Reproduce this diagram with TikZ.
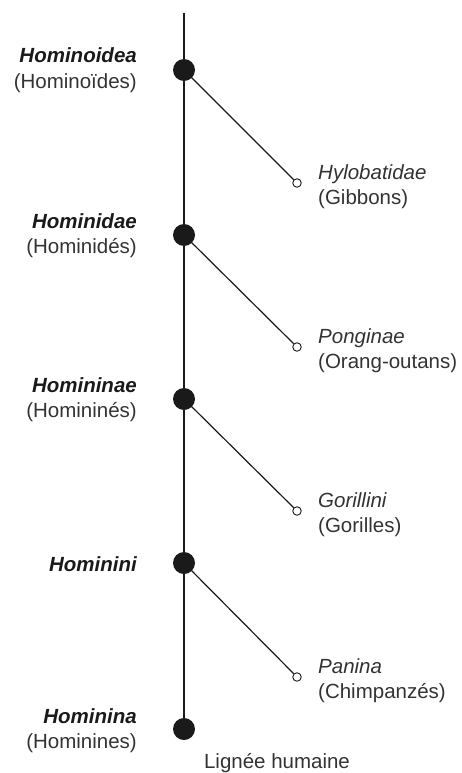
\documentclass[tikz,border=0pt]{standalone}
\usepackage{fontspec}
\setmainfont{Liberation Sans}
\usetikzlibrary{backgrounds}
\definecolor{txt}{HTML}{333333}
\definecolor{ink}{HTML}{1A1A1A}
\begin{document}
\begin{tikzpicture}[x=1pt,y=-1pt,
  bigdot/.style={circle,fill=ink,inner sep=0pt,minimum size=22pt},
  leaf/.style={circle,draw=ink,fill=white,line width=0.9pt,inner sep=0pt,minimum size=8.5pt},
  trunk/.style={draw=ink,line width=1.5pt},
  branch/.style={draw=ink,line width=1.2pt},
  taxon/.style={font=\fontsize{20.5}{26}\selectfont\bfseries\itshape,text=ink,inner sep=0pt},
  common/.style={font=\fontsize{20.5}{26}\selectfont,text=txt,inner sep=0pt},
  sister/.style={font=\fontsize{20.5}{26}\selectfont\itshape,text=txt,inner sep=0pt}]
\useasboundingbox (0,0) rectangle (461,773);
\coordinate (top) at (184,13);
\node[bigdot] (d1) at (184,70) {};
\node[bigdot] (d2) at (184,235) {};
\node[bigdot] (d3) at (184,399) {};
\node[bigdot] (d4) at (184,563) {};
\node[bigdot] (d5) at (184,729) {};
\node[leaf] (l1) at (297,183) {};
\node[leaf] (l2) at (297,347) {};
\node[leaf] (l3) at (297,511) {};
\node[leaf] (l4) at (297,677) {};
\begin{pgfonlayer}{background}
\path[trunk] (top) -- (d1.center) -- (d2.center) -- (d3.center) -- (d4.center) -- (d5.center);
\path[branch] (d1.center) -- (l1);
\path[branch] (d2.center) -- (l2);
\path[branch] (d3.center) -- (l3);
\path[branch] (d4.center) -- (l4);
\end{pgfonlayer}
% left labels
\node[taxon,anchor=base east] (t1) at (137,63) {Hominoidea};
\node[common,anchor=base east] (c1) at (137,89) {(Hominoïdes)};
\node[taxon,anchor=base east] (t2) at (137,228) {Hominidae};
\node[common,anchor=base east] (c2) at (137,253) {(Hominidés)};
\node[taxon,anchor=base east] (t3) at (137,392) {Homininae};
\node[common,anchor=base east] (c3) at (137,417) {(Homininés)};
\node[taxon,anchor=base east] (t4) at (137,571) {Hominini};
\node[taxon,anchor=base east] (t5) at (137,723) {Hominina};
\node[common,anchor=base east] (c5) at (137,748) {(Hominines)};
% right labels
\node[sister,anchor=base west] (s1) at (318,179) {Hylobatidae};
\node[common,anchor=base west] (r1) at (318,204) {(Gibbons)};
\node[sister,anchor=base west] (s2) at (318,343) {Ponginae};
\node[common,anchor=base west] (r2) at (318,368) {(Orang-outans)};
\node[sister,anchor=base west] (s3) at (318,507) {Gorillini};
\node[common,anchor=base west] (r3) at (318,532) {(Gorilles)};
\node[sister,anchor=base west] (s4) at (318,673) {Panina};
\node[common,anchor=base west] (r4) at (318,698) {(Chimpanzés)};
\node[common,anchor=base] (hl) at (277,768) {Lignée humaine};
\end{tikzpicture}
\end{document}
